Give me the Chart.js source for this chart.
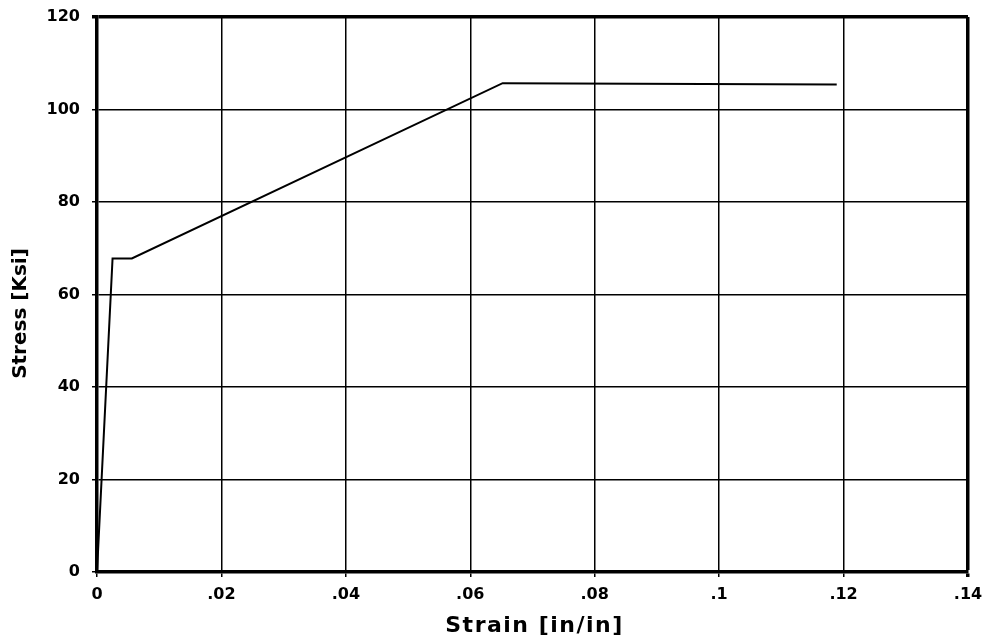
<!DOCTYPE html>
<html><head><meta charset="utf-8">
<script src="https://cdn.jsdelivr.net/npm/chart.js@4/dist/chart.umd.min.js"></script>
<style>html,body{margin:0;padding:0;background:#fff}#wrap{width:991px;height:642px}</style>
</head><body><div id="wrap"><canvas id="c" width="991" height="642"></canvas></div>
<script>
const strain = [0, 0.0025, 0.0056, 0.0652, 0.1189];
const stress = [0, 67.8, 67.8, 105.7, 105.4];
const xTickValues = [0, 0.02, 0.04, 0.06, 0.08, 0.1, 0.12, 0.14];
const xTickLabels = ['0', '.02', '.04', '.06', '.08', '.1', '.12', '.14'];
const yTickValues = [0, 20, 40, 60, 80, 100, 120];
const xTitle = 'Strain [in/in]';
const yTitle = 'Stress [Ksi]';

const fam = 'Verdana, "DejaVu Sans", sans-serif';
const font = {family: fam, weight: 'bold', size: 16};

const axisTitles = {
  id: 'axisTitles',
  afterDraw(chart) {
    const ctx = chart.ctx, a = chart.chartArea;
    ctx.save();
    ctx.fillStyle = '#000';
    ctx.textAlign = 'center';
    ctx.textBaseline = 'middle';
    ctx.font = 'bold 22px ' + fam;
    ctx.letterSpacing = '1.5px';
    ctx.fillText(xTitle, (a.left + a.right) / 2 + 2, a.bottom + 54);
    ctx.font = 'bold 20px ' + fam;
    ctx.letterSpacing = '0px';
    ctx.translate(21, (a.top + a.bottom) / 2 + 19);
    ctx.rotate(-Math.PI / 2);
    ctx.fillText(yTitle, 0, 0);
    ctx.restore();
  }
};

new Chart(document.getElementById('c'), {
  type: 'scatter',
  data: {datasets: [{
    data: strain.map((x, i) => ({x, y: stress[i]})),
    showLine: true, borderColor: '#000', borderWidth: 2, pointRadius: 0, tension: 0, fill: false
  }]},
  plugins: [axisTitles],
  options: {
    responsive: false, animation: false, devicePixelRatio: 1,
    layout: {padding: {top: 17, right: 23, left: 0, bottom: 0}},
    plugins: {legend: {display: false}, tooltip: {enabled: false}},
    scales: {
      x: {
        type: 'linear', min: 0, max: 0.14,
        afterBuildTicks: s => { s.ticks = xTickValues.map(v => ({value: v})); },
        afterFit: s => { s.height = 70; s.paddingLeft = 0; s.paddingRight = 0; },
        ticks: {color: '#000', font, padding: 8, maxRotation: 0, autoSkip: false,
          callback: (v, i) => xTickLabels[i]},
        grid: {color: '#000', tickLength: 5,
          lineWidth: c => (c.tick && c.tick.value >= 0.14) ? 3.5 : 1.5},
        border: {color: '#000', width: 3.5},
        title: {display: false}
      },
      y: {
        min: 0, max: 120,
        afterBuildTicks: s => { s.ticks = yTickValues.map(v => ({value: v})); },
        afterFit: s => { s.width = 97; s.paddingTop = 0; s.paddingBottom = 0; },
        ticks: {color: '#000', font, padding: 12},
        grid: {color: '#000', tickLength: 5,
          lineWidth: c => (c.tick && c.tick.value >= 120) ? 3.5 : 1.5},
        border: {color: '#000', width: 3.5},
        title: {display: false}
      }
    }
  }
});
</script></body></html>
